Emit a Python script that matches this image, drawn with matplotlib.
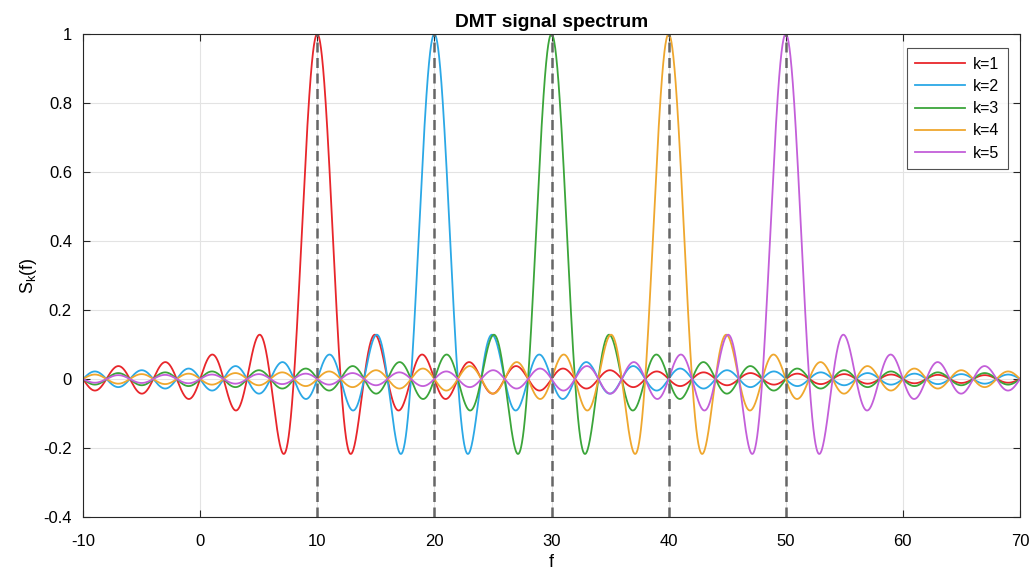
import numpy as np
import matplotlib.pyplot as plt

plt.rcParams['font.family'] = ['Liberation Sans', 'DejaVu Sans']
plt.rcParams['axes.unicode_minus'] = False

# Параметры спектра DMT
k_values = [1, 2, 3, 4, 5]
centre_freqs = [10, 20, 30, 40, 50]   # центральные частоты поднесущих
zero_spacing = 2.0                     # расстояние между нулями sinc
f_min, f_max = -10, 70
colors = ['#e8262b', '#2ba8e6', '#3ba53a', '#efa72e', '#c35fd9']

f = np.linspace(f_min, f_max, 4001)

fig = plt.figure(figsize=(10.36, 5.72), dpi=100)
ax = fig.add_axes([83 / 1036, 1 - 517 / 572, (1020 - 83) / 1036, (517 - 34) / 572])

for k, fc, c in zip(k_values, centre_freqs, colors):
    S = np.sinc((f - fc) / zero_spacing)
    ax.plot(f, S, color=c, lw=1.3, label=f'k={k}')

for fc in centre_freqs:
    ax.plot([fc, fc], [-0.4, 1], '--', color='#666666', lw=1.8, dashes=(4, 2.2))

ax.set_xlim(f_min, f_max)
ax.set_ylim(-0.4, 1)
ax.set_xticks(np.arange(-10, 71, 10))
ax.set_yticks(np.arange(-0.4, 1.01, 0.2))
ax.set_yticklabels(['-0.4', '-0.2', '0', '0.2', '0.4', '0.6', '0.8', '1'])
ax.grid(True, color='#e3e3e3', lw=0.8)
ax.set_axisbelow(True)
ax.tick_params(direction='in', top=True, right=True, labelsize=12,
               color='#262626', length=5)
ax.tick_params(axis='x', pad=12)
ax.tick_params(axis='y', pad=8)
for s in ax.spines.values():
    s.set_color('#262626')
    s.set_linewidth(0.8)

ax.set_xlabel('f', fontsize=13, labelpad=4)
ax.set_ylabel('$\\mathregular{S_k(f)}$', fontsize=13, labelpad=3)
ax.set_title('DMT signal spectrum', fontsize=13.8, fontweight='bold', pad=5)

leg = ax.legend(loc='upper right', fontsize=11.5, frameon=True, fancybox=False,
                edgecolor='#262626', handlelength=3.1, handletextpad=0.5,
                borderpad=0.55, labelspacing=0.45, borderaxespad=0,
                bbox_to_anchor=((1008 - 83) / 937, 1 - 14 / 483))
leg.get_frame().set_linewidth(0.8)

fig.savefig('out.png', dpi=100)
